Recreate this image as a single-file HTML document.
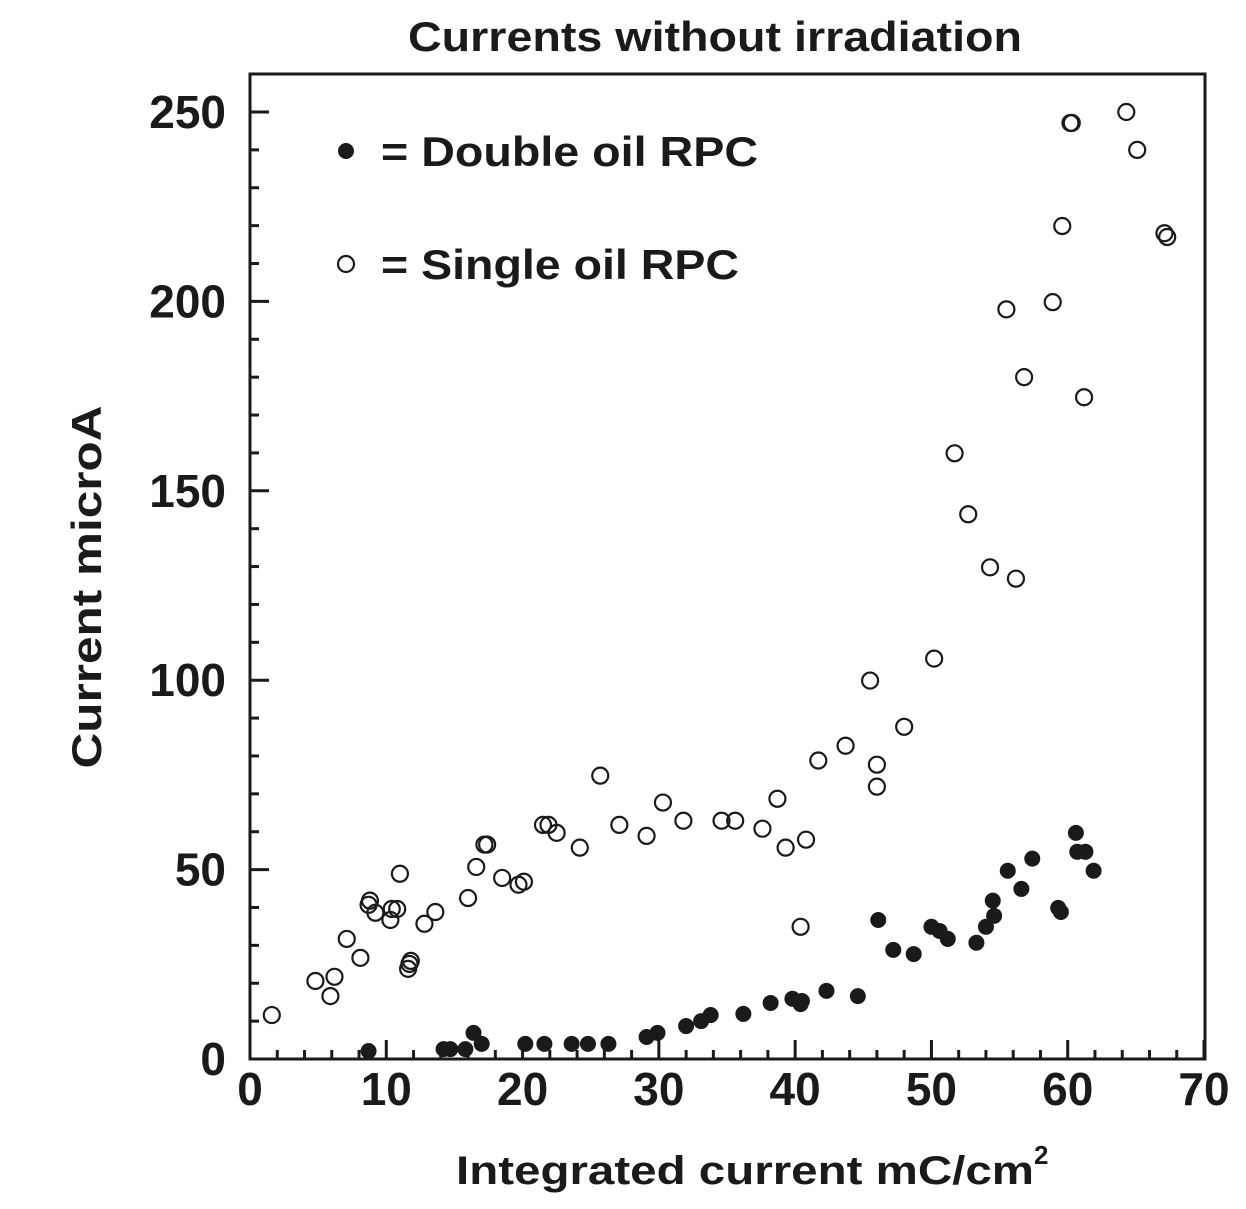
<!DOCTYPE html>
<html><head><meta charset="utf-8"><style>
html,body{margin:0;padding:0;background:#fff}
svg text{font-family:"Liberation Sans",Arial,sans-serif;font-weight:bold;fill:#1a1a1a}
</style></head><body>
<svg id="chart" width="1246" height="1204" viewBox="0 0 1246 1204" xmlns="http://www.w3.org/2000/svg">
<text x="408" y="51" font-size="42" textLength="614" lengthAdjust="spacingAndGlyphs">Currents without irradiation</text>
<rect x="250" y="74" width="955" height="985" fill="none" stroke="#1a1a1a" stroke-width="3"/>
<g id="ticks"></g>
<g id="marks"></g>
<g>
<circle cx="346" cy="151" r="8" fill="#1a1a1a"/>
<text x="381" y="166" font-size="42" textLength="377" lengthAdjust="spacingAndGlyphs">= Double oil RPC</text>
<circle cx="346" cy="264" r="8" fill="none" stroke="#1a1a1a" stroke-width="2.2"/>
<text x="381" y="279" font-size="42" textLength="358" lengthAdjust="spacingAndGlyphs">= Single oil RPC</text>
</g>
<text x="456" y="1184" font-size="40"><tspan textLength="578" lengthAdjust="spacingAndGlyphs">Integrated current  mC/cm</tspan><tspan font-size="26" dy="-20">2</tspan></text>
<text transform="translate(101,587) rotate(-90)" font-size="42" text-anchor="middle" textLength="363" lengthAdjust="spacingAndGlyphs">Current  microA</text>
</svg>
<script>
const xTicks=[0,10,20,30,40,50,60,70];
const yTicks=[0,50,100,150,200,250];
const singleX=[1.6,4.8,5.9,6.2,7.1,8.1,8.7,8.8,9.2,10.3,10.4,10.8,11.0,11.6,11.7,11.8,12.8,13.6,16.0,16.6,17.2,17.4,18.5,19.7,20.1,21.5,21.9,22.5,24.2,25.7,27.1,29.1,30.3,31.8,34.6,35.6,37.6,38.7,39.3,40.8,40.4,41.7,43.7,45.5,46.0,46.0,48.0,50.2,51.7,52.7,54.3,55.5,56.2,56.8,58.9,59.6,60.2,60.3,61.2,64.3,65.1,67.1,67.3];
const singleY=[11.6,20.6,16.6,21.7,31.7,26.7,40.7,41.8,38.6,36.7,39.6,39.6,48.9,23.8,25.1,25.9,35.7,38.8,42.5,50.7,56.6,56.6,47.8,46.0,46.8,61.8,61.8,59.7,55.8,74.8,61.8,58.9,67.7,62.9,62.9,62.9,60.8,68.7,55.8,57.9,34.9,78.8,82.7,99.9,77.7,71.9,87.7,105.7,159.9,143.8,129.8,197.9,126.8,180.0,199.8,219.9,247.1,247.1,174.7,250,240,218,217];
const doubleX=[8.7,14.2,14.7,15.8,16.4,17.0,20.2,21.6,23.6,24.8,26.3,29.1,29.9,32.0,33.1,33.8,36.2,38.2,39.8,40.5,40.4,42.3,44.6,46.1,47.2,48.7,50.0,50.6,51.2,53.3,54.0,54.5,54.6,55.6,56.6,57.4,59.3,59.5,60.6,60.7,61.3,61.9];
const doubleY=[2.1,2.6,2.6,2.6,6.9,4.0,4.0,4.0,4.0,4.0,4.0,5.8,6.9,8.7,10.0,11.6,11.9,14.8,15.9,15.3,14.5,18.0,16.6,36.7,28.8,27.7,34.9,33.8,31.7,30.7,34.9,41.8,37.8,49.7,44.9,52.9,39.9,38.8,59.7,54.7,54.7,49.7];
const NS="http://www.w3.org/2000/svg";
const X0=250,X1=1204,Y0=1059,Y1=112;
function sx(v){return X0+(X1-X0)*v/70;}
function sy(v){return Y0+(Y1-Y0)*v/250;}
function mk(tag,attrs,parent){const e=document.createElementNS(NS,tag);for(const k in attrs)e.setAttribute(k,attrs[k]);parent.appendChild(e);return e;}
const tg=document.getElementById('ticks');
for(let v=0;v<=70;v+=2){const major=v%10===0;
 const l=mk('line',{x1:sx(v),x2:sx(v),y1:Y0,y2:Y0-(major?19:9),stroke:'#1a1a1a','stroke-width':3},tg);
 
 }
for(let v=0;v<=250;v+=10){const major=v%50===0;
 const l=mk('line',{x1:X0,x2:X0+(major?19:9),y1:sy(v),y2:sy(v),stroke:'#1a1a1a','stroke-width':3},tg);
 
 }
xTicks.forEach(v=>{const t=mk('text',{x:sx(v),y:1105,'font-size':46,'text-anchor':'middle'},tg);t.textContent=v;
 
 });
yTicks.forEach(v=>{const t=mk('text',{x:226,y:sy(v)+16,'font-size':46,'text-anchor':'end'},tg);t.textContent=v;
 
 });
const mg=document.getElementById('marks');
singleX.forEach((v,i)=>{const c=mk('circle',{cx:sx(v),cy:sy(singleY[i]),r:8,fill:'none',stroke:'#1a1a1a','stroke-width':2.2},mg);
 
 });
doubleX.forEach((v,i)=>{const c=mk('circle',{cx:sx(v),cy:sy(doubleY[i]),r:8,fill:'#1a1a1a'},mg);
 
 });
</script>
</body></html>
